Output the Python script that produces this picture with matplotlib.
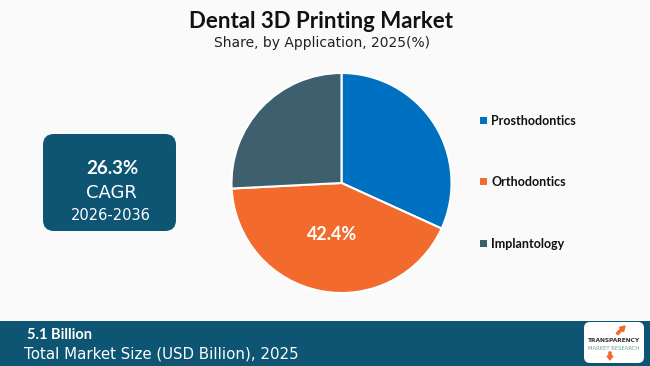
import matplotlib
matplotlib.use("Agg")
import matplotlib.pyplot as plt
from matplotlib.patches import FancyBboxPatch, Rectangle, FancyArrow

categories = ["Prosthodontics", "Orthodontics", "Implantology"]
shares = [31.8, 42.4, 25.8]
colors = ["#0070C0", "#F26B2D", "#3E5F6E"]
title = "Dental 3D Printing Market"
subtitle = "Share, by Application, 2025(%)"
cagr_value = "26.3%"
cagr_period = "2026-2036"
market_size = "5.1 Billion"
market_label = "Total Market Size (USD Billion), 2025"
shown_label = "42.4%"

W, H = 650, 366
BG = "#FAFAFA"
DARK = "#0D5573"

fig = plt.figure(figsize=(6.5, 3.66), dpi=100, facecolor=BG)

# pie
cx, cy, r = 341.5, 183, 110
pax = fig.add_axes([(cx - r) / W, (H - cy - r) / H, 2 * r / W, 2 * r / H])
pax.pie(shares, colors=colors, startangle=90, counterclock=False, radius=1,
        wedgeprops=dict(edgecolor="white", linewidth=1.5))
pax.set_aspect("equal")
pax.set_xlim(-1, 1)
pax.set_ylim(-1, 1)

# overlay axes in pixel coordinates (transparent, on top)
ov = fig.add_axes([0, 0, 1, 1], zorder=5)
ov.set_xlim(0, W)
ov.set_ylim(H, 0)
ov.axis("off")
ov.patch.set_alpha(0)

# title
ov.text(321, 21, title, ha="center", va="center", fontsize=16,
        fontweight="bold", family="Lato", color="#111111")
ov.text(322.5, 43, subtitle, ha="center", va="center", fontsize=10,
        family="DejaVu Sans", color="#222222")

# CAGR box
box = FancyBboxPatch((43, 134), 133, 97, boxstyle="round,pad=0,rounding_size=11",
                     facecolor=DARK, edgecolor="none")
ov.add_patch(box)
ov.text(112, 169, cagr_value, ha="center", va="center", fontsize=13.5,
        fontweight="bold", family="Lato", color="white")
ov.text(111, 193, "CAGR", ha="center", va="center", fontsize=13,
        family="DejaVu Sans", color="white")
ov.text(111, 215, cagr_period, ha="center", va="center", fontsize=10.5,
        family="DejaVu Sans", color="white")

# legend
leg_y = [121, 182, 244]
for cat, col, y in zip(categories, colors, leg_y):
    ov.add_patch(Rectangle((480, y - 4), 7, 7, facecolor=col, edgecolor="none"))
    ov.text(491, y, cat, ha="left", va="center", fontsize=9, fontweight="bold",
            family="Lato", color="#111111")

# label inside the orange slice
ov.text(332, 234, shown_label, ha="center", va="center", fontsize=13,
        fontweight="bold", family="Lato", color="white")

# bottom banner
ov.add_patch(Rectangle((0, 321), W, H - 321, facecolor=DARK, edgecolor="none"))
ov.text(27, 335, market_size, ha="left", va="center", fontsize=10.5,
        fontweight="bold", family="Lato", color="white")
ov.text(24, 354, market_label, ha="left", va="center", fontsize=10.8,
        family="DejaVu Sans", color="white")

# logo
ov.add_patch(FancyBboxPatch((584, 322), 60, 41, boxstyle="round,pad=0,rounding_size=6",
                            facecolor="white", edgecolor="none"))
ov.text(614, 341, "TRANSPARENCY", ha="center", va="center", fontsize=4.2,
        fontweight="bold", family="DejaVu Sans", color="#333333")
ov.text(614, 348, "MARKET RESEARCH", ha="center", va="center", fontsize=3.8,
        family="DejaVu Sans", color="#6aa58a")
ov.add_patch(FancyArrow(617, 334, 8, -8, width=2.2, head_width=6, head_length=5,
                        color="#F26B2D", length_includes_head=True))
ov.add_patch(FancyArrow(610, 352, 0, 8, width=2.2, head_width=6, head_length=4,
                        color="#F26B2D", length_includes_head=True))

fig.savefig("out.png", dpi=100, facecolor=BG)
